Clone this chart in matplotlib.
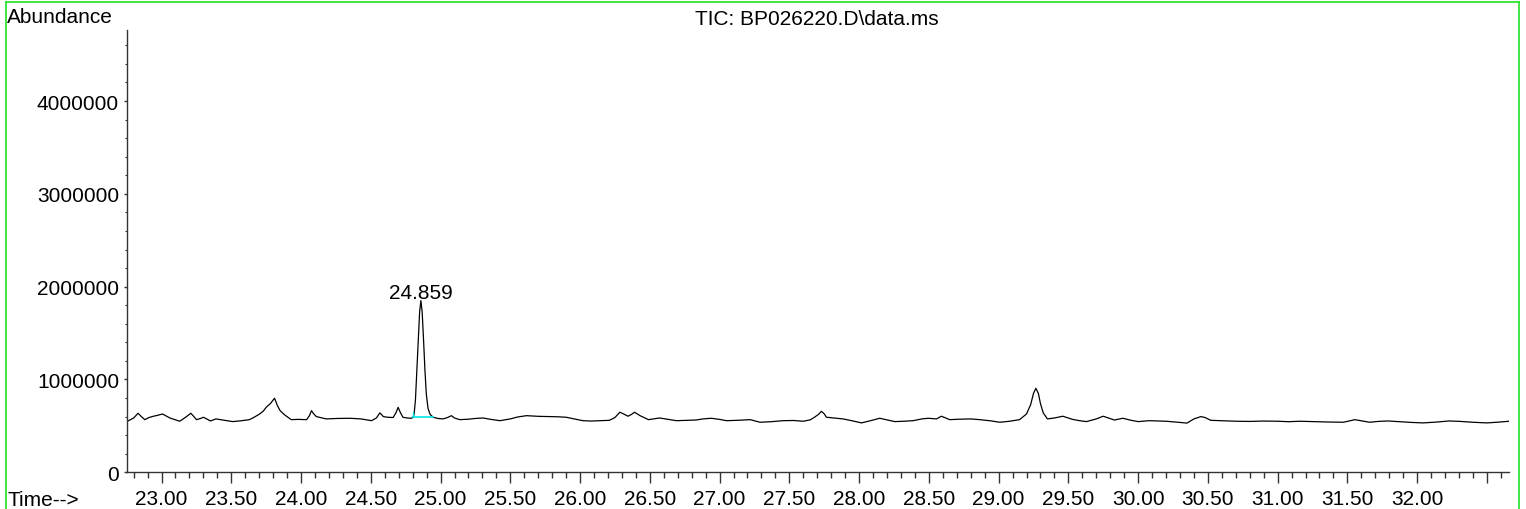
import matplotlib.pyplot as plt
from matplotlib.lines import Line2D
from matplotlib.ticker import MultipleLocator, FuncFormatter

plt.rcParams['font.family'] = ['Liberation Sans', 'DejaVu Sans']

# TIC trace (time in min, abundance in counts)
rt = [22.756, 22.80, 22.832, 22.855, 22.88, 22.91, 22.94, 22.975, 23.007, 23.035,
      23.06, 23.10, 23.13, 23.17, 23.21, 23.235, 23.25, 23.28, 23.30, 23.33,
      23.35, 23.39, 23.45, 23.51, 23.57, 23.63, 23.66, 23.70, 23.73, 23.75,
      23.78, 23.81, 23.83, 23.85, 23.88, 23.93, 23.98, 24.04, 24.06, 24.075,
      24.09, 24.11, 24.18, 24.26, 24.35, 24.43, 24.505, 24.54, 24.565, 24.59,
      24.62, 24.66, 24.68, 24.696, 24.71, 24.73, 24.76, 24.79, 24.80, 24.81,
      24.82, 24.83, 24.84, 24.85, 24.859, 24.868, 24.878, 24.888, 24.898, 24.91,
      24.925, 24.947, 24.98, 25.018, 25.05, 25.078, 25.10, 25.138, 25.20, 25.25,
      25.305, 25.36, 25.425, 25.50, 25.55, 25.616, 25.70, 25.78, 25.84, 25.90,
      25.96, 26.02, 26.08, 26.14, 26.21, 26.25, 26.285, 26.31, 26.344, 26.37,
      26.39, 26.43, 26.49, 26.57, 26.63, 26.69, 26.76, 26.83, 26.88, 26.94,
      27.00, 27.05, 27.13, 27.22, 27.29, 27.37, 27.455, 27.53, 27.60, 27.65,
      27.68, 27.71, 27.73, 27.75, 27.766, 27.82, 27.885, 27.95, 28.017, 28.08,
      28.148, 28.20, 28.256, 28.32, 28.387, 28.45, 28.495, 28.555, 28.59, 28.62,
      28.65, 28.72, 28.80, 28.865, 28.94, 29.008, 29.08, 29.15, 29.20, 29.23,
      29.25, 29.267, 29.285, 29.30, 29.32, 29.35, 29.40, 29.46, 29.53, 29.58,
      29.63, 29.70, 29.75, 29.83, 29.89, 29.95, 30.00, 30.08, 30.15, 30.20,
      30.28, 30.35, 30.40, 30.45, 30.48, 30.52, 30.60, 30.70, 30.80, 30.90,
      31.00, 31.08, 31.16, 31.25, 31.35, 31.47, 31.52, 31.553, 31.60, 31.66,
      31.72, 31.79, 31.87, 31.95, 32.04, 32.13, 32.23, 32.31, 32.40, 32.50,
      32.58, 32.66]
abundance = [550000, 585000, 636000, 600000, 567000, 590000, 603000, 615000, 628000, 605000,
             585000, 565000, 550000, 590000, 636000, 595000, 567000, 580000, 593000, 570000,
             553000, 575000, 560000, 546000, 555000, 567000, 590000, 625000, 660000, 700000,
             740000, 798000, 720000, 664000, 621000, 567000, 570000, 567000, 610000, 664000,
             630000, 600000, 575000, 580000, 582000, 575000, 556000, 585000, 640000, 600000,
             593000, 590000, 640000, 700000, 650000, 593000, 585000, 582000, 590000, 620000,
             780000, 1100000, 1430000, 1730000, 1850000, 1730000, 1430000, 1100000, 840000, 690000,
             624000, 593000, 580000, 575000, 590000, 610000, 585000, 567000, 572000, 580000,
             585000, 570000, 556000, 575000, 595000, 610000, 603000, 600000, 598000, 593000,
             575000, 556000, 552000, 556000, 560000, 590000, 647000, 630000, 604000, 625000,
             647000, 610000, 567000, 585000, 570000, 556000, 560000, 563000, 575000, 582000,
             570000, 556000, 560000, 567000, 539000, 545000, 556000, 558000, 550000, 565000,
             593000, 625000, 657000, 630000, 593000, 585000, 575000, 555000, 532000, 555000,
             582000, 565000, 546000, 550000, 556000, 575000, 582000, 575000, 604000, 585000,
             567000, 572000, 575000, 567000, 555000, 539000, 550000, 567000, 628000, 730000,
             850000, 905000, 850000, 740000, 640000, 575000, 585000, 604000, 570000, 556000,
             546000, 575000, 604000, 563000, 582000, 560000, 546000, 556000, 552000, 550000,
             540000, 530000, 575000, 600000, 590000, 560000, 556000, 550000, 548000, 552000,
             550000, 545000, 550000, 546000, 542000, 539000, 555000, 567000, 555000, 539000,
             548000, 553000, 545000, 538000, 532000, 540000, 553000, 548000, 539000, 532000,
             540000, 550000]

# integration baseline of the labelled peak
peak_rt = 24.859
peak_abundance = 1850000
base_t = [24.803, 24.947]
base_a = [593000, 593000]

fig = plt.figure(figsize=(15.26, 5.10), dpi=100)
ax = fig.add_axes([0.0830, 0.072, 0.906, 0.868])

ax.plot(rt, abundance, color='black', lw=0.9)
ax.plot(base_t, base_a, color='#00e5e5', lw=1.2)
ax.plot([base_t[0], base_t[0]], [base_a[0], 650000], color='#00e5e5', lw=1.0)

ax.annotate(f'{peak_rt:.3f}', (peak_rt, peak_abundance), xytext=(0, 2),
            textcoords='offset points', ha='center', va='baseline', fontsize=15)

ax.set_xlim(22.75, 32.66)
ax.set_ylim(0, 4770000)

for s in ['top', 'right']:
    ax.spines[s].set_visible(False)
for s in ['left', 'bottom']:
    ax.spines[s].set_color('#333333')
    ax.spines[s].set_linewidth(1.0)

ax.xaxis.set_major_locator(MultipleLocator(0.5))
ax.xaxis.set_minor_locator(MultipleLocator(0.1))
ax.xaxis.set_major_formatter(FuncFormatter(lambda v, p: '' if v > 32.2 else f'{v:.2f}'))
ax.yaxis.set_major_locator(MultipleLocator(1000000))
ax.yaxis.set_minor_locator(MultipleLocator(200000))
ax.yaxis.set_major_formatter(FuncFormatter(lambda v, p: f'{int(v)}'))

ax.tick_params(axis='x', which='major', length=8, width=1, pad=4, labelsize=15, color='#333333')
ax.tick_params(axis='x', which='minor', length=4.3, width=1, color='#333333')
ax.tick_params(axis='y', which='major', length=2.5, width=1, pad=3, labelsize=15, color='#333333')
ax.tick_params(axis='y', which='minor', length=1.5, width=0.8, color='#333333')

fig.text(7.3 / 1526, 1 - 22.7 / 510, 'Abundance', fontsize=15, va='baseline', ha='left')
fig.text(817 / 1526, 1 - 25 / 510, 'TIC: BP026220.D\\data.ms', fontsize=15, va='baseline', ha='center')
fig.text(7.3 / 1526, 1 - 506 / 510, 'Time-->', fontsize=15, va='baseline', ha='left')

# green frame
g = '#22e022'
fig.add_artist(Line2D([0.0041, 0.9957], [0.9935, 0.9935], color=g, lw=1.2, transform=fig.transFigure))
fig.add_artist(Line2D([0.0041, 0.0041], [0, 0.9935], color=g, lw=1.2, transform=fig.transFigure))
fig.add_artist(Line2D([0.9957, 0.9957], [0, 0.9935], color=g, lw=1.2, transform=fig.transFigure))

fig.savefig('out.png', dpi=100)
